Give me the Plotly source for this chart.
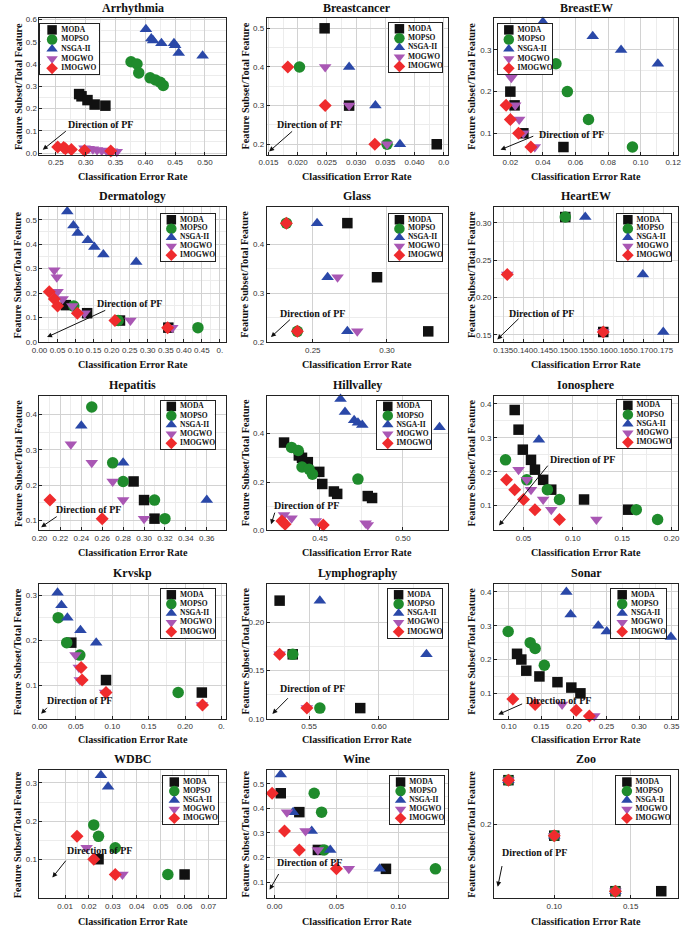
import plotly.graph_objects as go

W, H = 685, 938

SERIES = ["MODA", "MOPSO", "NSGA-II", "MOGWO", "IMOGWO"]
COLORS = {"MODA": "#111111", "MOPSO": "#1f8b2c", "NSGA-II": "#2a48a8",
          "MOGWO": "#a957b4", "IMOGWO": "#ef2b2d"}
SYMBOLS = {"MODA": "square", "MOPSO": "circle", "NSGA-II": "triangle-up",
           "MOGWO": "triangle-down", "IMOGWO": "diamond"}
SIZES = {"MODA": 10.5, "MOPSO": 11.5, "NSGA-II": 11, "MOGWO": 11, "IMOGWO": 10}

# ---------------- data (classification error rate, feature ratio) ----------------
arrhythmia = {
    "MODA": ([0.289, 0.293, 0.303, 0.315, 0.333], [0.265, 0.255, 0.238, 0.218, 0.213]),
    "MOPSO": ([0.376, 0.386, 0.389, 0.408, 0.417, 0.425, 0.430], [0.410, 0.400, 0.360, 0.338, 0.328, 0.318, 0.304]),
    "NSGA-II": ([0.401, 0.410, 0.413, 0.427, 0.448, 0.450, 0.456, 0.496], [0.556, 0.514, 0.505, 0.493, 0.493, 0.484, 0.449, 0.437]),
    "MOGWO": ([0.298, 0.305, 0.312, 0.319, 0.327, 0.335, 0.344, 0.352], [0.022, 0.020, 0.017, 0.014, 0.012, 0.010, 0.008, 0.006]),
    "IMOGWO": ([0.253, 0.263, 0.266, 0.276, 0.298, 0.342], [0.028, 0.025, 0.020, 0.016, 0.012, 0.010]),
}
breastcancer = {
    "MODA": ([0.0246, 0.0288, 0.0438], [0.5, 0.3, 0.2]),
    "MOPSO": ([0.0203, 0.0353], [0.4, 0.2]),
    "NSGA-II": ([0.0288, 0.0333, 0.0375], [0.4, 0.3, 0.2]),
    "MOGWO": ([0.0247, 0.0288, 0.0353], [0.4, 0.3, 0.2]),
    "IMOGWO": ([0.0183, 0.0247, 0.0332], [0.4, 0.3, 0.2]),
}
breastew = {
    "MODA": ([0.020, 0.0226, 0.028, 0.0526], [0.200, 0.167, 0.100, 0.067]),
    "MOPSO": ([0.048, 0.055, 0.068, 0.095], [0.267, 0.200, 0.133, 0.067]),
    "NSGA-II": ([0.040, 0.0706, 0.088, 0.1106], [0.367, 0.333, 0.300, 0.267]),
    "MOGWO": ([0.0206, 0.023, 0.0254, 0.028, 0.035], [0.233, 0.167, 0.133, 0.100, 0.067]),
    "IMOGWO": ([0.0174, 0.020, 0.025, 0.0326], [0.167, 0.133, 0.100, 0.067]),
}
dermatology = {
    "MODA": ([0.073, 0.132, 0.223, 0.357], [0.151, 0.118, 0.088, 0.059]),
    "MOPSO": ([0.095, 0.218, 0.439], [0.147, 0.088, 0.059]),
    "NSGA-II": ([0.077, 0.094, 0.106, 0.134, 0.152, 0.177, 0.268], [0.534, 0.476, 0.446, 0.416, 0.389, 0.358, 0.327]),
    "MOGWO": ([0.041, 0.048, 0.050, 0.064, 0.091, 0.125, 0.252, 0.368], [0.294, 0.265, 0.206, 0.176, 0.147, 0.118, 0.088, 0.059]),
    "IMOGWO": ([0.027, 0.041, 0.050, 0.105, 0.209, 0.355], [0.206, 0.176, 0.147, 0.118, 0.088, 0.059]),
}
glass = {
    "MODA": ([0.2733, 0.2933, 0.3278], [0.444, 0.333, 0.222]),
    "MOPSO": ([0.2322, 0.2396], [0.444, 0.222]),
    "NSGA-II": ([0.2529, 0.2600, 0.2733], [0.444, 0.333, 0.222]),
    "MOGWO": ([0.2667, 0.2800], [0.333, 0.222]),
    "IMOGWO": ([0.2322, 0.2396], [0.444, 0.222]),
}
heartew = {
    "MODA": ([0.1505, 0.1600], [0.3077, 0.1538]),
    "MOPSO": ([0.1505], [0.3077]),
    "NSGA-II": ([0.1555, 0.1699, 0.1750], [0.3077, 0.2308, 0.1538]),
    "MOGWO": ([0.1360, 0.1600], [0.2308, 0.1538]),
    "IMOGWO": ([0.1360, 0.1600], [0.2308, 0.1538]),
}
hepatitis = {
    "MODA": ([0.29, 0.30, 0.31], [0.2105, 0.1579, 0.1053]),
    "MOPSO": ([0.25, 0.27, 0.28, 0.31, 0.32], [0.4211, 0.2632, 0.2105, 0.1579, 0.1053]),
    "NSGA-II": ([0.24, 0.28, 0.36], [0.3684, 0.2632, 0.1579]),
    "MOGWO": ([0.23, 0.25, 0.27, 0.28, 0.30], [0.3158, 0.2632, 0.2105, 0.1579, 0.1053]),
    "IMOGWO": ([0.21, 0.26], [0.1579, 0.1053]),
}
hillvalley = {
    "MODA": ([0.4284, 0.4373, 0.4392, 0.4427, 0.4496, 0.4514, 0.4584, 0.4604, 0.4788, 0.4814],
             [0.363, 0.310, 0.300, 0.282, 0.242, 0.192, 0.161, 0.151, 0.142, 0.134]),
    "MOPSO": ([0.4329, 0.4369, 0.4392, 0.4435, 0.4455, 0.4729], [0.343, 0.330, 0.262, 0.253, 0.232, 0.212]),
    "NSGA-II": ([0.4624, 0.4651, 0.4706, 0.4729, 0.4755, 0.5220], [0.543, 0.489, 0.455, 0.445, 0.435, 0.426]),
    "MOGWO": ([0.4284, 0.4329, 0.4475, 0.4775, 0.4788], [0.064, 0.050, 0.039, 0.030, 0.023]),
    "IMOGWO": ([0.4271, 0.4290, 0.4520], [0.039, 0.026, 0.023]),
}
ionosphere = {
    "MODA": ([0.0411, 0.0450, 0.0493, 0.0576, 0.0616, 0.0699, 0.0781, 0.1113, 0.1560],
             [0.382, 0.324, 0.265, 0.235, 0.206, 0.176, 0.147, 0.118, 0.088]),
    "MOPSO": ([0.0318, 0.0533, 0.0742, 0.0864, 0.1642, 0.1858], [0.235, 0.176, 0.147, 0.118, 0.088, 0.059]),
    "NSGA-II": ([0.0656], [0.294]),
    "MOGWO": ([0.0450, 0.0533, 0.0576, 0.0699, 0.0781, 0.1238], [0.206, 0.176, 0.147, 0.118, 0.088, 0.059]),
    "IMOGWO": ([0.0328, 0.0411, 0.0500, 0.0616, 0.0864], [0.176, 0.147, 0.118, 0.088, 0.059]),
}
krvskp = {
    "MODA": ([0.0437, 0.0914, 0.2230], [0.1944, 0.1111, 0.0833]),
    "MOPSO": ([0.0257, 0.0374, 0.0554, 0.1905], [0.2500, 0.1944, 0.1667, 0.0833]),
    "NSGA-II": ([0.0248, 0.0302, 0.0383, 0.0563, 0.0779], [0.3056, 0.2778, 0.2500, 0.2222, 0.1944]),
    "MOGWO": ([0.0495, 0.0540, 0.0554, 0.0900, 0.2230], [0.1667, 0.1389, 0.1111, 0.0833, 0.0556]),
    "IMOGWO": ([0.0572, 0.0586, 0.0914, 0.2239], [0.1389, 0.1111, 0.0833, 0.0556]),
}
lymphography = {
    "MODA": ([0.5289, 0.5383, 0.5866], [0.2222, 0.1667, 0.1111]),
    "MOPSO": ([0.5383, 0.5577], [0.1667, 0.1111]),
    "NSGA-II": ([0.5577, 0.6340], [0.2222, 0.1667]),
    "MOGWO": ([0.5289, 0.5484], [0.1667, 0.1111]),
    "IMOGWO": ([0.5289, 0.5484], [0.1667, 0.1111]),
}
sonar = {
    "MODA": ([0.1126, 0.1192, 0.1268, 0.147, 0.1747, 0.196, 0.210], [0.217, 0.200, 0.167, 0.150, 0.133, 0.117, 0.100]),
    "MOPSO": ([0.099, 0.1328, 0.1404, 0.1545], [0.283, 0.250, 0.233, 0.183]),
    "NSGA-II": ([0.1884, 0.195, 0.2374, 0.2505, 0.349], [0.400, 0.333, 0.300, 0.283, 0.267]),
    "MOGWO": ([0.1818, 0.2313], [0.067, 0.033]),
    "IMOGWO": ([0.1061, 0.1404, 0.2035, 0.2237], [0.083, 0.067, 0.050, 0.033]),
}
wdbc = {
    "MODA": ([0.024, 0.060], [0.100, 0.060]),
    "MOPSO": ([0.022, 0.024, 0.031, 0.053], [0.190, 0.160, 0.130, 0.060]),
    "NSGA-II": ([0.025, 0.028, 0.070], [0.320, 0.290, 0.260]),
    "MOGWO": ([0.019, 0.034], [0.130, 0.060]),
    "IMOGWO": ([0.015, 0.022, 0.031], [0.160, 0.100, 0.060]),
}
wine = {
    "MODA": ([0.005, 0.020, 0.035, 0.090], [0.462, 0.385, 0.231, 0.154]),
    "MOPSO": ([0.032, 0.038, 0.040, 0.130], [0.462, 0.385, 0.231, 0.154]),
    "NSGA-II": ([0.005, 0.015, 0.030, 0.045, 0.085], [0.538, 0.385, 0.308, 0.231, 0.154]),
    "MOGWO": ([0.010, 0.025, 0.035, 0.060], [0.385, 0.308, 0.231, 0.154]),
    "IMOGWO": ([-0.002, 0.008, 0.020, 0.050], [0.462, 0.308, 0.231, 0.154]),
}
zoo = {
    "MODA": ([0.07, 0.10, 0.14, 0.17], [0.25, 0.1875, 0.125, 0.125]),
    "MOPSO": ([0.07, 0.10, 0.14], [0.25, 0.1875, 0.125]),
    "NSGA-II": ([0.07, 0.10, 0.14], [0.25, 0.1875, 0.125]),
    "MOGWO": ([0.07, 0.10, 0.14], [0.25, 0.1875, 0.125]),
    "IMOGWO": ([0.07, 0.10, 0.14], [0.25, 0.1875, 0.125]),
}

# ---------------- tick labels ----------------
arr_xt = [0.25, 0.30, 0.35, 0.40, 0.45, 0.50]
arr_yt = [0.0, 0.1, 0.2, 0.3, 0.4, 0.5, 0.6]
bc_xt = [0.015, 0.020, 0.025, 0.030, 0.035, 0.040, 0.045]
bc_xtt = ["0.015", "0.020", "0.025", "0.030", "0.035", "0.040", "0.0"]
bc_yt = [0.2, 0.3, 0.4, 0.5]
bew_xt = [0.02, 0.04, 0.06, 0.08, 0.10, 0.12]
bew_yt = [0.1, 0.2, 0.3]
der_xt = [0.00, 0.05, 0.10, 0.15, 0.20, 0.25, 0.30, 0.35, 0.40, 0.45, 0.50]
der_xtt = ["0.00", "0.05", "0.10", "0.15", "0.20", "0.25", "0.30", "0.35", "0.40", "0.45", "0."]
der_yt = [0.0, 0.1, 0.2, 0.3, 0.4, 0.5]
gl_xt = [0.25, 0.30]
gl_yt = [0.2, 0.3, 0.4]
hew_xt = [0.135, 0.140, 0.145, 0.150, 0.155, 0.160, 0.165, 0.170, 0.175]
hew_yt = [0.15, 0.20, 0.25, 0.30]
hep_xt = [0.20, 0.22, 0.24, 0.26, 0.28, 0.30, 0.32, 0.34, 0.36]
hep_yt = [0.1, 0.2, 0.3, 0.4]
hv_xt = [0.45, 0.50]
hv_yt = [0.0, 0.2, 0.4]
ion_xt = [0.05, 0.10, 0.15, 0.20]
ion_yt = [0.1, 0.2, 0.3, 0.4]
kr_xt = [0.00, 0.05, 0.10, 0.15, 0.20, 0.25]
kr_xtt = ["0.00", "0.05", "0.10", "0.15", "0.20", "0."]
kr_yt = [0.1, 0.2, 0.3]
ly_xt = [0.55, 0.60, 0.65]
ly_xtt = ["0.55", "0.60", "0."]
ly_yt = [0.10, 0.15, 0.20]
so_xt = [0.10, 0.15, 0.20, 0.25, 0.30, 0.35]
so_yt = [0.1, 0.2, 0.3, 0.4]
wd_xt = [0.01, 0.02, 0.03, 0.04, 0.05, 0.06, 0.07]
wd_yt = [0.1, 0.2, 0.3]
wi_xt = [0.00, 0.05, 0.10]
wi_yt = [0.1, 0.2, 0.3, 0.4, 0.5]
zo_xt = [0.10, 0.15]
zo_yt = [0.2]

def fmt(vals, d):
    return [f"{v:.{d}f}" for v in vals]

# ---------------- panel configuration (layout only) ----------------
panels = [
    dict(t="Arrhythmia", d=arrhythmia, xr=[0.2225, 0.536], yr=[-0.007, 0.607], xt=arr_xt, xtt=fmt(arr_xt, 2), yt=arr_yt, ytt=fmt(arr_yt, 1),
         leg=(33, 21, 92, 72), txt=(0.2665, 0.129), arr=(0.2692, 0.104, 0.228, 0.015)),
    dict(t="Breastcancer", d=breastcancer, xr=[0.0147, 0.0457], yr=[0.173, 0.527], xt=bc_xt, xtt=bc_xtt, yt=bc_yt, ytt=fmt(bc_yt, 1),
         leg=(387, 20, 441, 70), txt=(0.0161, 0.2513), arr=(0.0193, 0.2368, 0.0151, 0.1812)),
    dict(t="BreastEW", d=breastew, xr=[0.010, 0.123], yr=[0.0486, 0.377], xt=bew_xt, xtt=fmt(bew_xt, 2), yt=bew_yt, ytt=fmt(bew_yt, 1),
         leg=(498, 21, 553, 72), txt=(0.0366, 0.0976), arr=(0.035, 0.0945, 0.014, 0.0605)),
    dict(t="Dermatology", d=dermatology, xr=[0.0, 0.518], yr=[0.0, 0.551], xt=der_xt, xtt=der_xtt, yt=der_yt, ytt=fmt(der_yt, 1),
         leg=(155, 213, 210, 260), txt=(0.1545, 0.1595), arr=(0.1864, 0.1324, 0.0209, 0.0203)),
    dict(t="Glass", d=glass, xr=[0.219, 0.341], yr=[0.2, 0.4766], xt=gl_xt, xtt=fmt(gl_xt, 2), yt=gl_yt, ytt=fmt(gl_yt, 1),
         leg=(387, 213, 441, 260), txt=(0.2267, 0.259), arr=(0.2356, 0.2488, 0.2218, 0.2102)),
    dict(t="HeartEW", d=heartew, xr=[0.1327, 0.1787], yr=[0.1403, 0.3208], xt=hew_xt, xtt=fmt(hew_xt, 3), yt=hew_yt, ytt=fmt(hew_yt, 2),
         leg=(619, 213, 674, 260), txt=(0.136, 0.1788), arr=(0.1392, 0.1735, 0.1335, 0.1438)),
    dict(t="Hepatitis", d=hepatitis, xr=[0.20, 0.3788], yr=[0.0719, 0.4533], xt=hep_xt, xtt=fmt(hep_xt, 2), yt=hep_yt, ytt=fmt(hep_yt, 1),
         leg=(155, 401, 210, 450), txt=(0.2135, 0.130), arr=(0.2179, 0.114, 0.2016, 0.0813)),
    dict(t="Hillvalley", d=hillvalley, xr=[0.418, 0.527], yr=[0.0, 0.5568], xt=hv_xt, xtt=fmt(hv_xt, 2), yt=hv_yt, ytt=fmt(hv_yt, 1),
         leg=(375, 401, 430, 450), txt=(0.4212, 0.1014), arr=(0.4231, 0.0797, 0.4206, 0.0257)),
    dict(t="Ionosphere", d=ionosphere, xr=[0.0202, 0.2065], yr=[0.0267, 0.4244], xt=ion_xt, xtt=fmt(ion_xt, 2), yt=ion_yt, ytt=fmt(ion_yt, 1),
         leg=(619, 400, 674, 449), txt=(0.0748, 0.2369), arr=(0.0758, 0.2222, 0.0252, 0.0413)),
    dict(t="Krvskp", d=krvskp, xr=[0.0, 0.2568], yr=[0.0247, 0.325], xt=kr_xt, xtt=kr_xtt, yt=kr_yt, ytt=fmt(kr_yt, 1),
         leg=(155, 591, 210, 640), txt=(0.0077, 0.0653), arr=(0.0122, 0.0527, 0.0023, 0.0358)),
    dict(t="Lymphography", d=lymphography, xr=[0.5197, 0.6493], yr=[0.1, 0.2394], xt=ly_xt, xtt=ly_xtt, yt=ly_yt, ytt=fmt(ly_yt, 2),
         leg=(386, 591, 441, 640), txt=(0.5279, 0.1315), arr=(0.5359, 0.1229, 0.5237, 0.1051)),
    dict(t="Sonar", d=sonar, xr=[0.0773, 0.360], yr=[0.0245, 0.4235], xt=so_xt, xtt=fmt(so_xt, 2), yt=so_yt, ytt=fmt(so_yt, 1),
         leg=(613, 591, 669, 640), txt=(0.1227, 0.0784), arr=(0.1227, 0.0706, 0.0838, 0.0373)),
    dict(t="WDBC", d=wdbc, xr=[-0.0007, 0.0775], yr=[-0.0025, 0.333], xt=wd_xt, xtt=fmt(wd_xt, 2), yt=wd_yt, ytt=fmt(wd_yt, 1),
         leg=(158, 780, 213, 828), txt=(0.010, 0.122), arr=(0.0108, 0.100, 0.0047, 0.052)),
    dict(t="Wine", d=wine, xr=[-0.0063, 0.14], yr=[0.034, 0.555], xt=wi_xt, xtt=fmt(wi_xt, 2), yt=wi_yt, ytt=fmt(wi_yt, 1),
         leg=(388, 780, 443, 828), txt=(0.0, 0.178), arr=(0.004, 0.139, -0.004, 0.069)),
    dict(t="Zoo", d=zoo, xr=[0.0606, 0.181], yr=[0.117, 0.261], xt=zo_xt, xtt=fmt(zo_xt, 2), yt=zo_yt, ytt=fmt(zo_yt, 1),
         leg=(618, 780, 673, 828), txt=(0.0645, 0.168), arr=(0.066, 0.155, 0.063, 0.13)),
]

COL_X = [(32, 222), (263, 447), (494, 681)]
ROW_Y = [(15, 153), (206, 342), (396, 532), (586, 722), (774, 903)]
TITLE_Y = [5, 195, 385, 575, 763]
XLAB_Y = [175, 365, 554, 743, 926]
YLAB_X = [10, 241, 471]

SERIF = "Liberation Serif, Times New Roman, serif"
SANS = "Liberation Sans, Arial, sans-serif"

fig = go.Figure()
layout = dict(width=W, height=H, margin=dict(l=0, r=0, t=0, b=0),
              paper_bgcolor="white", plot_bgcolor="white", showlegend=False)
annotations = []

def px_x(p):
    return p / W

def px_y(p):
    return 1 - p / H

def mids(v):
    return [(a + b) / 2 for a, b in zip(v[:-1], v[1:])]

for k, p in enumerate(panels, start=1):
    r, c = divmod(k - 1, 3)
    x0, x1 = COL_X[c]
    y0, y1 = ROW_Y[r]
    xn = "x" if k == 1 else f"x{k}"
    yn = "y" if k == 1 else f"y{k}"
    xkey = "xaxis" if k == 1 else f"xaxis{k}"
    ykey = "yaxis" if k == 1 else f"yaxis{k}"
    common = dict(showline=True, linewidth=1, linecolor="#222", mirror=True,
                  ticks="inside", ticklen=3, tickcolor="#222", showgrid=True,
                  gridcolor="#d2d2d2", gridwidth=1, zeroline=False,
                  tickfont=dict(family=SANS, size=8, color="#333"), tickangle=0,
                  fixedrange=True)
    layout[xkey] = dict(common, domain=[px_x(x0), px_x(x1)], range=p["xr"], anchor=yn,
                        tickmode="array", tickvals=p["xt"], ticktext=p["xtt"],
                        minor=dict(tickmode="array", tickvals=mids(p["xt"]), showgrid=True,
                                   gridcolor="#ececec", ticks=""))
    layout[ykey] = dict(common, domain=[px_y(y1), px_y(y0)], range=p["yr"], anchor=xn,
                        tickmode="array", tickvals=p["yt"], ticktext=p["ytt"],
                        minor=dict(tickmode="array", tickvals=mids(p["yt"]), showgrid=True,
                                   gridcolor="#ececec", ticks=""))
    for s in SERIES:
        xs, ys = p["d"][s]
        fig.add_trace(go.Scatter(x=xs, y=ys, mode="markers", name=s, xaxis=xn, yaxis=yn,
                                 cliponaxis=False,
                                 marker=dict(symbol=SYMBOLS[s], color=COLORS[s], size=SIZES[s],
                                             line=dict(width=0))))
    annotations.append(dict(text=f"<b>{p['t']}</b>", x=px_x((x0 + x1) / 2), y=px_y(TITLE_Y[r]),
                            xref="paper", yref="paper", showarrow=False, xanchor="center",
                            yanchor="middle", font=dict(family=SERIF, size=12, color="#111")))
    annotations.append(dict(text="<b>Classification Error Rate</b>", x=px_x((x0 + x1) / 2),
                            y=px_y(XLAB_Y[r]), xref="paper", yref="paper", showarrow=False,
                            xanchor="center", yanchor="middle",
                            font=dict(family=SERIF, size=10.2, color="#111")))
    annotations.append(dict(text="<b>Feature Subset/Total Feature</b>", x=px_x(YLAB_X[c]),
                            y=px_y((y0 + y1) / 2), xref="paper", yref="paper", showarrow=False,
                            textangle=-90, xanchor="center", yanchor="middle",
                            font=dict(family=SERIF, size=10.2, color="#111")))
    tx, ty = p["txt"]
    annotations.append(dict(text="<b>Direction of PF</b>", x=tx, y=ty, xref=xn, yref=yn,
                            showarrow=False, xanchor="left", yanchor="middle",
                            font=dict(family=SERIF, size=10, color="#111")))
    axx, ayy, hx, hy = p["arr"]
    annotations.append(dict(text="", x=hx, y=hy, ax=axx, ay=ayy, xref=xn, yref=yn,
                            axref=xn, ayref=yn, showarrow=True, arrowhead=2, arrowsize=1,
                            arrowwidth=1, arrowcolor="#111"))

# legend boxes (drawn as small overlay subplots)
LEG_Y = [0.88, 0.69, 0.50, 0.31, 0.12]
for k, p in enumerate(panels, start=1):
    n = 15 + k
    lx0, ly0, lx1, ly1 = p["leg"]
    lax = dict(showline=True, linewidth=1, linecolor="#222", mirror=True, ticks="",
               showticklabels=False, showgrid=False, zeroline=False, range=[0, 1],
               fixedrange=True)
    layout[f"xaxis{n}"] = dict(lax, domain=[px_x(lx0), px_x(lx1)], anchor=f"y{n}")
    layout[f"yaxis{n}"] = dict(lax, domain=[px_y(ly1), px_y(ly0)], anchor=f"x{n}")
    for s, yy in zip(SERIES, LEG_Y):
        fig.add_trace(go.Scatter(x=[0.2], y=[yy], mode="markers", xaxis=f"x{n}", yaxis=f"y{n}",
                                 cliponaxis=False, hoverinfo="skip",
                                 marker=dict(symbol=SYMBOLS[s], color=COLORS[s],
                                             size=SIZES[s] - 1, line=dict(width=0))))
    fig.add_trace(go.Scatter(x=[0.36] * 5, y=LEG_Y, mode="text", xaxis=f"x{n}", yaxis=f"y{n}",
                             text=[f"<b>{s}</b>" for s in SERIES], textposition="middle right",
                             cliponaxis=False, hoverinfo="skip",
                             textfont=dict(family=SERIF, size=7.5, color="#111")))

layout["annotations"] = annotations
fig.update_layout(**layout)
fig.write_html(
    "out.html",
    config={"displayModeBar": False},
    post_script=("document.body.style.margin='0';"
                 "document.body.style.overflow='hidden';"
                 "document.documentElement.style.overflow='hidden';"),
)
